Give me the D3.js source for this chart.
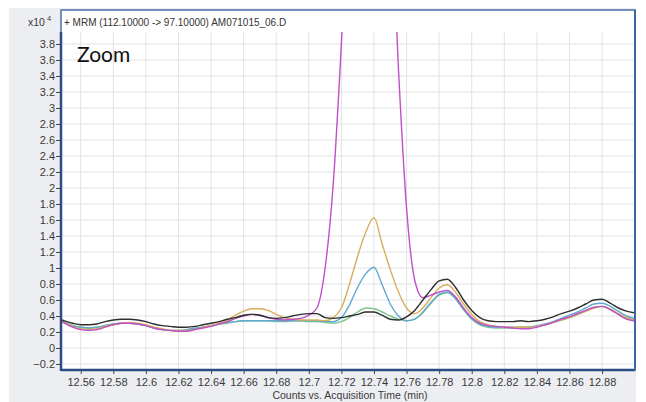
<!DOCTYPE html>
<html lang="en">
	<head>
		<meta charset="utf-8">
		<title>MRM chromatogram zoom</title>
		<script type="text/javascript" src="https://cdn.jsdelivr.net/npm/d3@7"></script>
		<style type="text/css">
			body {
				background-color: white;
				font-family: "Liberation Sans", Arial, sans-serif;
				margin: 0;
			}
			svg {
				display: block;
			}
		</style>
	</head>
	<body>
		<script type="text/javascript">
			//Acquisition times (min), shared by every trace
			var times = [12.545, 12.550, 12.555, 12.560, 12.565, 12.570, 12.575, 12.580, 12.585, 12.590,
				12.595, 12.600, 12.605, 12.610, 12.615, 12.620, 12.625, 12.630, 12.635, 12.640,
				12.645, 12.650, 12.655, 12.660, 12.665, 12.670, 12.675, 12.680, 12.685, 12.690,
				12.695, 12.700, 12.705, 12.710, 12.715, 12.720, 12.725, 12.730, 12.735, 12.740,
				12.745, 12.750, 12.755, 12.760, 12.765, 12.770, 12.775, 12.780, 12.785, 12.790,
				12.795, 12.800, 12.805, 12.810, 12.815, 12.820, 12.825, 12.830, 12.835, 12.840,
				12.845, 12.850, 12.855, 12.860, 12.865, 12.870, 12.875, 12.880, 12.885, 12.890,
				12.895, 12.900];

			//Counts x10^4 for each trace
			var greenCounts = [0.37, 0.32, 0.28, 0.26, 0.25, 0.26, 0.28, 0.30, 0.31, 0.31,
				0.30, 0.28, 0.25, 0.23, 0.22, 0.21, 0.22, 0.24, 0.26, 0.28,
				0.30, 0.31, 0.33, 0.34, 0.34, 0.34, 0.34, 0.33, 0.33, 0.34,
				0.34, 0.33, 0.33, 0.32, 0.31, 0.33, 0.38, 0.45, 0.50, 0.49,
				0.45, 0.40, 0.36, 0.34, 0.36, 0.44, 0.56, 0.66, 0.69, 0.62,
				0.48, 0.36, 0.29, 0.26, 0.25, 0.25, 0.25, 0.26, 0.26, 0.27,
				0.29, 0.32, 0.35, 0.38, 0.42, 0.46, 0.50, 0.52, 0.48, 0.42,
				0.37, 0.34];
			var blueCounts = [0.37, 0.32, 0.28, 0.26, 0.25, 0.26, 0.28, 0.30, 0.31, 0.31,
				0.30, 0.28, 0.25, 0.23, 0.22, 0.22, 0.23, 0.25, 0.26, 0.28,
				0.30, 0.32, 0.33, 0.34, 0.34, 0.34, 0.34, 0.34, 0.34, 0.34,
				0.34, 0.34, 0.34, 0.33, 0.33, 0.38, 0.54, 0.76, 0.93, 1.01,
				0.79, 0.55, 0.40, 0.34, 0.36, 0.45, 0.57, 0.67, 0.70, 0.62,
				0.48, 0.37, 0.30, 0.27, 0.26, 0.26, 0.26, 0.26, 0.26, 0.28,
				0.30, 0.33, 0.37, 0.41, 0.45, 0.50, 0.55, 0.56, 0.52, 0.46,
				0.40, 0.37];
			var goldCounts = [0.38, 0.32, 0.27, 0.24, 0.23, 0.24, 0.27, 0.29, 0.31, 0.32,
				0.31, 0.29, 0.26, 0.24, 0.22, 0.22, 0.22, 0.23, 0.26, 0.28,
				0.31, 0.35, 0.41, 0.46, 0.49, 0.49, 0.47, 0.42, 0.38, 0.36,
				0.35, 0.35, 0.35, 0.34, 0.38, 0.50, 0.80, 1.15, 1.45, 1.63,
				1.30, 0.98, 0.70, 0.50, 0.43, 0.50, 0.63, 0.75, 0.79, 0.70,
				0.55, 0.42, 0.33, 0.29, 0.27, 0.26, 0.26, 0.26, 0.26, 0.27,
				0.29, 0.32, 0.35, 0.38, 0.42, 0.46, 0.50, 0.52, 0.49, 0.43,
				0.38, 0.35];
			var magentaCounts = [0.38, 0.31, 0.26, 0.23, 0.22, 0.23, 0.26, 0.29, 0.31, 0.31,
				0.30, 0.28, 0.25, 0.23, 0.22, 0.21, 0.21, 0.23, 0.25, 0.27,
				0.30, 0.33, 0.37, 0.40, 0.42, 0.41, 0.38, 0.36, 0.35, 0.36,
				0.37, 0.41, 0.50, 1.00, 2.05, 3.80, 5.80, 7.20, 7.80, 7.80,
				7.20, 5.80, 3.50, 1.75, 0.85, 0.63, 0.66, 0.70, 0.72, 0.64,
				0.50, 0.38, 0.31, 0.28, 0.27, 0.26, 0.25, 0.24, 0.24, 0.26,
				0.29, 0.32, 0.36, 0.39, 0.43, 0.47, 0.51, 0.52, 0.48, 0.42,
				0.36, 0.34];
			var blackCounts = [0.38, 0.34, 0.31, 0.29, 0.29, 0.30, 0.33, 0.35, 0.36, 0.36,
				0.35, 0.33, 0.30, 0.28, 0.27, 0.26, 0.26, 0.27, 0.29, 0.31,
				0.33, 0.36, 0.38, 0.41, 0.42, 0.41, 0.38, 0.37, 0.38, 0.40,
				0.42, 0.43, 0.43, 0.38, 0.37, 0.38, 0.40, 0.42, 0.45, 0.45,
				0.41, 0.36, 0.35, 0.39, 0.47, 0.60, 0.73, 0.84, 0.86, 0.76,
				0.60, 0.47, 0.38, 0.34, 0.33, 0.33, 0.33, 0.34, 0.33, 0.34,
				0.36, 0.39, 0.43, 0.46, 0.50, 0.55, 0.60, 0.61, 0.56, 0.50,
				0.46, 0.44];

			var traces = [
				{ name: "green", values: greenCounts },
				{ name: "blue", values: blueCounts },
				{ name: "gold", values: goldCounts },
				{ name: "magenta", values: magentaCounts },
				{ name: "black", values: blackCounts }
			];
			var traceColors = { green: "#7cc68a", blue: "#5fa9cf", gold: "#d9ac5a", magenta: "#c04fc8", black: "#2e2e2e" };

			//Tick values for the axes
			var xTicks = [12.56, 12.58, 12.60, 12.62, 12.64, 12.66, 12.68, 12.70, 12.72, 12.74, 12.76, 12.78, 12.80, 12.82, 12.84, 12.86, 12.88];
			var yTicks = [-0.2, 0, 0.2, 0.4, 0.6, 0.8, 1, 1.2, 1.4, 1.6, 1.8, 2, 2.2, 2.4, 2.6, 2.8, 3, 3.2, 3.4, 3.6, 3.8];

			//Width and height
			var w = 646;
			var h = 402;
			var frame = { left: 61, right: 635, top: 10, bottom: 370 };
			var plotTop = 32;

			var x = d3.scaleLinear()
				.domain([12.5479, 12.8996])
				.range([frame.left, frame.right - 1]);
			var y = d3.scaleLinear()
				.domain([-0.2625, 3.95])
				.range([frame.bottom - 1, plotTop]);

			//Create SVG
			var svg = d3.select("body")
				.append("svg")
				.attr("width", w)
				.attr("height", h);

			//grey panel behind everything
			svg.append("rect")
				.attr("x", 9)
				.attr("y", 8)
				.attr("width", 627)
				.attr("height", h - 8)
				.attr("fill", "#eceef2");

			//white plot frame
			svg.append("rect")
				.attr("x", frame.left)
				.attr("y", frame.top)
				.attr("width", frame.right - frame.left)
				.attr("height", frame.bottom - frame.top)
				.attr("fill", "white");

			//grid
			svg.append("g")
				.selectAll("line")
				.data(xTicks)
				.enter().append("line")
				.attr("x1", function(d) { return x(d); })
				.attr("x2", function(d) { return x(d); })
				.attr("y1", plotTop)
				.attr("y2", frame.bottom)
				.attr("stroke", "#e2e2e2")
				.attr("stroke-width", 1);
			svg.append("g")
				.selectAll("line")
				.data(yTicks)
				.enter().append("line")
				.attr("x1", frame.left)
				.attr("x2", frame.right)
				.attr("y1", function(d) { return y(d); })
				.attr("y2", function(d) { return y(d); })
				.attr("stroke", "#e2e2e2")
				.attr("stroke-width", 1);

			//clip traces to the plot area (the title strip hides the top)
			svg.append("clipPath")
				.attr("id", "plotclip")
				.append("rect")
				.attr("x", frame.left + 1)
				.attr("y", plotTop)
				.attr("width", frame.right - frame.left - 2)
				.attr("height", frame.bottom - plotTop - 1);

			var line = d3.line()
				.x(function(d, i) { return x(times[i]); })
				.y(function(d) { return y(d); })
				.curve(d3.curveMonotoneX);

			svg.append("g")
				.attr("clip-path", "url(#plotclip)")
				.selectAll("path")
				.data(traces)
				.enter().append("path")
				.attr("d", function(d) { return line(d.values); })
				.attr("fill", "none")
				.attr("stroke", function(d) { return traceColors[d.name]; })
				.attr("stroke-width", 1.4)
				.attr("stroke-linejoin", "round");

			//axes
			var xAxis = d3.axisBottom(x)
				.tickValues(xTicks)
				.tickSize(5)
				.tickSizeOuter(0)
				.tickFormat(d3.format("~g"));
			var yAxis = d3.axisLeft(y)
				.tickValues(yTicks)
				.tickSize(5)
				.tickSizeOuter(0)
				.tickFormat(d3.format("~g"));

			var gx = svg.append("g")
				.attr("transform", "translate(0," + frame.bottom + ")")
				.call(xAxis);
			gx.select(".domain").remove();
			gx.selectAll(".tick line").attr("stroke", "#444").attr("y1", -1).attr("y2", 4);
			gx.selectAll(".tick text")
				.attr("y", 8)
				.attr("fill", "#3a3a3a")
				.style("font-family", "Liberation Sans, Arial, sans-serif")
				.style("font-size", "11px");

			var gy = svg.append("g")
				.attr("transform", "translate(" + frame.left + ",0)")
				.call(yAxis);
			gy.select(".domain").remove();
			gy.selectAll(".tick line").attr("stroke", "#444");
			gy.selectAll(".tick text")
				.attr("x", -6)
				.attr("fill", "#3a3a3a")
				.style("font-family", "Liberation Sans, Arial, sans-serif")
				.style("font-size", "11px");

			//frame borders: thin top/right, heavy left/bottom axis lines
			svg.append("rect")
				.attr("x", frame.left)
				.attr("y", frame.top)
				.attr("width", frame.right - frame.left)
				.attr("height", frame.bottom - frame.top)
				.attr("fill", "none")
				.attr("stroke", "#4a6fa8")
				.attr("stroke-width", 1.5);
			svg.append("line")
				.attr("x1", frame.left).attr("x2", frame.left)
				.attr("y1", frame.top + 22).attr("y2", frame.bottom + 1)
				.attr("stroke", "#2c4c85").attr("stroke-width", 2.5);
			svg.append("line")
				.attr("x1", frame.left).attr("x2", frame.right)
				.attr("y1", frame.bottom).attr("y2", frame.bottom)
				.attr("stroke", "#2c4c85").attr("stroke-width", 2.5);
			svg.append("line")
				.attr("x1", frame.right).attr("x2", frame.right)
				.attr("y1", frame.top).attr("y2", frame.bottom)
				.attr("stroke", "#3e64a3").attr("stroke-width", 2);

			//title strip
			svg.append("text")
				.attr("x", frame.left + 3)
				.attr("y", 26)
				.attr("fill", "#333")
				.style("font-size", "10px")
				.text("+ MRM (112.10000 -> 97.10000) AM071015_06.D");

			//x10^4 multiplier
			var mult = svg.append("text")
				.attr("x", 28)
				.attr("y", 26)
				.attr("fill", "#3a3a3a")
				.style("font-size", "10.5px");
			mult.append("tspan").text("x10");
			mult.append("tspan")
				.attr("dx", 2)
				.attr("dy", -5)
				.style("font-size", "7.5px")
				.text("4");

			//big annotation
			svg.append("text")
				.attr("x", 77)
				.attr("y", 62)
				.attr("fill", "#111")
				.style("font-family", "Lato, 'Open Sans', sans-serif")
				.style("font-size", "21px")
				.text("Zoom");

			//axis caption
			svg.append("text")
				.attr("x", (frame.left + frame.right) / 2 + 2)
				.attr("y", 399)
				.attr("text-anchor", "middle")
				.attr("fill", "#3a3a3a")
				.style("font-size", "10.5px")
				.text("Counts vs. Acquisition Time (min)");
		</script>
	</body>
</html>
